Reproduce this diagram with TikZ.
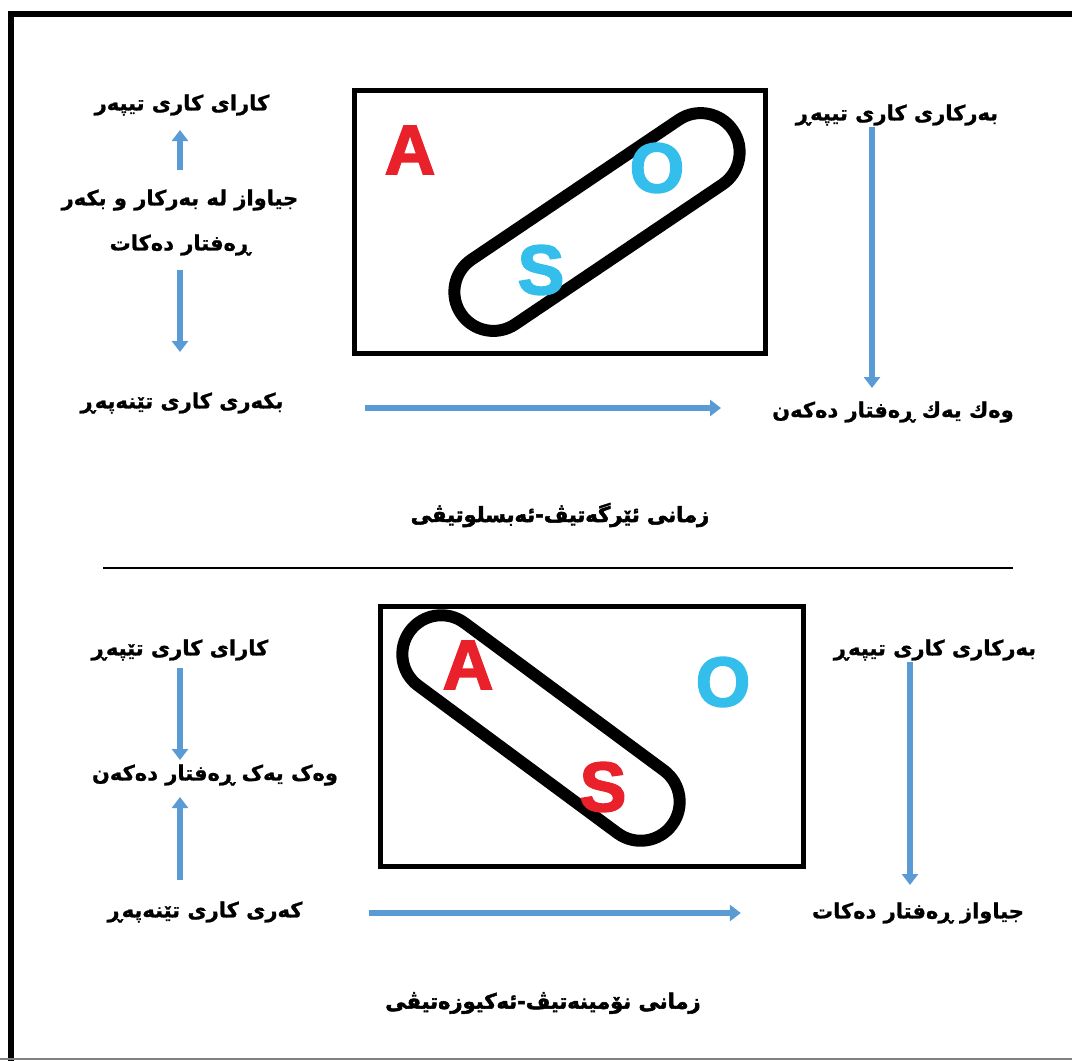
\documentclass[tikz,border=0pt]{standalone}
\usepackage{fontspec}
\usetikzlibrary{arrows.meta,shapes.misc}
\newfontfamily\kurdfont[Script=Arabic,FakeBold=1]{DejaVu Sans Bold}
\newfontfamily\titlefont[Script=Arabic,FakeBold=2.5]{DejaVu Sans Bold}
\newfontfamily\letterfont[FakeBold=2.5]{Liberation Sans Bold}
\TeXXeTstate=1
\newcommand{\kur}[1]{\beginR #1\endR}
\definecolor{arrowblue}{RGB}{91,155,213}
\definecolor{letterred}{RGB}{232,33,42}
\definecolor{lettercyan}{RGB}{51,190,235}
\begin{document}
\begin{tikzpicture}[x=1pt,y=-1pt,
  kurd/.style={font=\kurdfont\fontsize{21}{25}\selectfont, inner sep=1pt},
  title/.style={font=\titlefont\fontsize{21}{25}\selectfont, inner sep=1pt},
  flow/.style={draw=arrowblue, line width=6pt, -{Triangle[width=16pt,length=11pt]}},
  box/.style={draw, line width=5pt, inner sep=0pt},
  pill/.style={draw, rounded rectangle, line width=12pt, inner sep=0pt, minimum height=78pt},
  letter/.style={font=\letterfont\fontsize{70}{70}\selectfont, inner sep=0pt}]
  \clip (0,0) rectangle (1072,1061);
  % frame
  \draw[line width=6pt] (1080,14) -- (11,14) -- (11,1070);
  \draw[gray, line width=2pt] (0,1059) -- (1072,1059);
  \draw[line width=1.5pt] (103,568) -- (1013,568);

  % ergative-absolutive
  \node[box, minimum width=411pt, minimum height=263pt] (tBox) at (559.5,221.5) {};
  \node[pill, rotate=34, minimum width=328pt] (tPill) at (597,222) {};
  \node[letter, letterred] (tA) at (410,150) {A};
  \node[letter, lettercyan] (tO) at (657,168) {O};
  \node[letter, lettercyan] (tS) at (541,270) {S};
  \node[kurd] (tKara) at (182,105) {\kur{کارای کاری تیپەر}};
  \node[kurd] (tJia) at (180,200) {\kur{جیاواز لە بەرکار و بکەر}};
  \node[kurd] (tReft) at (180,245) {\kur{ڕەفتار دەکات}};
  \node[kurd] (tBkar) at (182,403) {\kur{بکەری کاری تێنەپەڕ}};
  \node[kurd] (tBar) at (897,115) {\kur{بەرکاری کاری تیپەڕ}};
  \node[kurd] (tWek) at (893,412) {\kur{وەك يەك ڕەفتار دەکەن}};
  \node[title] (tTitle) at (560,515) {\kur{زمانی ئێرگەتیڤ-ئەبسلوتیڤی}};
  \draw[flow] (180,170) -- (180,130);
  \draw[flow] (180,270) -- (180,352);
  \draw[flow, shorten <=80pt, shorten >=50pt] (tBkar.east |- 0,408) -- (tWek.west |- 0,408);
  \draw[flow] (tBar.south -| 872,0) -- (872,388);

  % nominative-accusative
  \node[box, minimum width=423pt, minimum height=260pt] (bBox) at (591.5,736) {};
  \node[pill, rotate=-36.5, minimum width=326pt] (bPill) at (541,728) {};
  \node[letter, letterred] (bA) at (468,665) {A};
  \node[letter, letterred] (bS) at (603,787) {S};
  \node[letter, lettercyan] (bO) at (723,682) {O};
  \node[kurd] (bKara) at (180,650) {\kur{کارای کاری تێپەڕ}};
  \node[kurd] (bWek) at (215,775) {\kur{وەک یەک ڕەفتار دەکەن}};
  \node[kurd] (bKar) at (205,912) {\kur{کەری کاری تێنەپەڕ}};
  \node[kurd] (bBar) at (935,650) {\kur{بەرکاری کاری تیپەڕ}};
  \node[kurd] (bJia) at (918,913) {\kur{جیاواز ڕەفتار دەکات}};
  \node[title] (bTitle) at (543,1003) {\kur{زمانی نۆمینەتیڤ-ئەکیوزەتیڤی}};
  \draw[flow] (180,668) -- (180,760);
  \draw[flow] (180,880) -- (180,797);
  \draw[flow, shorten <=65pt, shorten >=70pt] (bKar.east |- 0,913) -- (bJia.west |- 0,913);
  \draw[flow] (bBar.south -| 910,0) -- (910,885);
\end{tikzpicture}
\end{document}
